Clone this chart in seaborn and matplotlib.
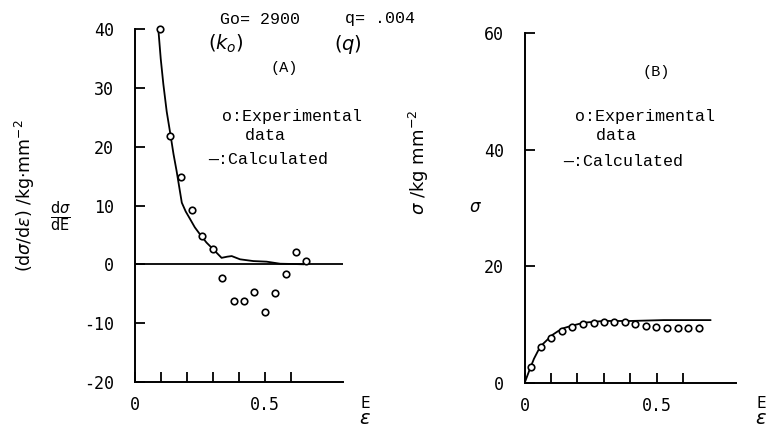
import matplotlib
matplotlib.use("Agg")
import matplotlib.pyplot as plt
import seaborn as sns
import pandas as pd

# ---------------- data ----------------
# Panel A: d(sigma)/d(epsilon) vs epsilon
a_exp_x = [0.096, 0.136, 0.176, 0.219, 0.258, 0.299, 0.336, 0.380, 0.418,
           0.457, 0.500, 0.540, 0.579, 0.618, 0.658]
a_exp_y = [40.0, 21.9, 14.8, 9.25, 4.9, 2.55, -2.4, -6.25, -6.25,
           -4.7, -8.1, -4.9, -1.7, 2.15, 0.56]
a_calc_x = [0.088, 0.099, 0.109, 0.122, 0.136, 0.148, 0.160, 0.180, 0.195,
            0.212, 0.230, 0.250, 0.275, 0.301, 0.333, 0.355, 0.372, 0.404,
            0.455, 0.506, 0.558, 0.609, 0.650]
a_calc_y = [41.0, 35.0, 30.7, 26.0, 22.2, 18.8, 15.9, 10.5, 9.0,
            7.7, 6.3, 5.1, 3.7, 2.55, 1.1, 1.3, 1.4, 0.85,
            0.55, 0.45, 0.1, 0.05, 0.0]

# Panel B: sigma vs epsilon
b_exp_x = [0.023, 0.061, 0.100, 0.141, 0.181, 0.220, 0.261, 0.299, 0.340,
           0.379, 0.419, 0.460, 0.499, 0.540, 0.580, 0.620, 0.660]
b_exp_y = [2.65, 6.1, 7.6, 8.8, 9.6, 10.1, 10.2, 10.4, 10.4,
           10.35, 10.0, 9.8, 9.5, 9.35, 9.35, 9.35, 9.35]
b_calc_x = [0.0, 0.010, 0.020, 0.035, 0.052, 0.068, 0.084, 0.105, 0.128,
            0.150, 0.172, 0.223, 0.299, 0.400, 0.527, 0.705]
b_calc_y = [0.0, 1.2, 2.4, 4.1, 5.6, 6.6, 7.3, 8.2, 8.9,
            9.4, 9.7, 10.3, 10.6, 10.6, 10.75, 10.75]

a_yticks = [-20, -10, 0, 10, 20, 30, 40]
a_yticklabels = ["-20", "-10", "0", "10", "20", "30", "40"]
b_yticks = [0, 20, 40, 60]
b_yticklabels = ["0", "20", "40", "60"]
x_ticks = [0, 0.1, 0.2, 0.3, 0.4, 0.5, 0.6]
x_ticklabels = ["0", "", "", "", "", "0.5", ""]

# ---------------- style ----------------
sns.set_theme(style="white")
plt.rcParams['font.family'] = ['DejaVu Sans']

W, H = 766, 432
fig = plt.figure(figsize=(W / 100, H / 100), dpi=100)


def ax_px(left, top, right, bottom):
    return fig.add_axes([left / W, 1 - bottom / H, (right - left) / W, (bottom - top) / H])


def ftxt(x, y, s, **kw):
    kw.setdefault("ha", "left")
    kw.setdefault("va", "center")
    fig.text(x / W, 1 - y / H, s, **kw)


axA = ax_px(135, 29.5, 343, 381.7)
axB = ax_px(524.7, 33.3, 735.7, 382.7)

dfA_exp = pd.DataFrame({"x": a_exp_x, "y": a_exp_y})
dfA_calc = pd.DataFrame({"x": a_calc_x, "y": a_calc_y})
dfB_exp = pd.DataFrame({"x": b_exp_x, "y": b_exp_y})
dfB_calc = pd.DataFrame({"x": b_calc_x, "y": b_calc_y})

for ax, dexp, dcalc in [(axA, dfA_exp, dfA_calc), (axB, dfB_exp, dfB_calc)]:
    sns.lineplot(data=dcalc, x="x", y="y", ax=ax, color="black", lw=1.3,
                 sort=False, estimator=None)
    sns.scatterplot(data=dexp, x="x", y="y", ax=ax, marker="o", s=22,
                    facecolor="white", edgecolor="black", linewidth=1.2,
                    zorder=3, clip_on=False)

axA.axhline(0, color="black", lw=1.3)

axA.set_ylim(-20, 40)
axB.set_ylim(0, 60)
axA.set_yticks(a_yticks)
axA.set_yticklabels(a_yticklabels)
axB.set_yticks(b_yticks)
axB.set_yticklabels(b_yticklabels)

for ax in (axA, axB):
    ax.set_xlim(0, 0.8)
    ax.set_xticks(x_ticks)
    ax.set_xticklabels(x_ticklabels)
    ax.set_xlabel("")
    ax.set_ylabel("")
    ax.spines["top"].set_visible(False)
    ax.spines["right"].set_visible(False)
    for s in ("left", "bottom"):
        ax.spines[s].set_color("black")
        ax.spines[s].set_linewidth(1.4)
    ax.tick_params(axis="both", direction="in", length=7, width=1.3,
                   colors="black", labelsize=12, bottom=True, left=True)
    ax.tick_params(axis="y", pad=15)
    ax.tick_params(axis="x", pad=10)
    for lab in ax.get_xticklabels() + ax.get_yticklabels():
        lab.set_family("DejaVu Sans Mono")
    ax.set_facecolor("white")

mono = dict(family="Liberation Mono", color="black")

# header
ftxt(220, 19, "Go= 2900", fontsize=12, **mono)
ftxt(345, 19, "q= .004", fontsize=12, **mono)
ftxt(208, 44, r"($k_o$)", fontsize=14, color="black")
ftxt(334, 44, r"($q$)", fontsize=14, color="black")

# panel A annotations
ftxt(284, 68, "(A)", fontsize=11, ha="center", **mono)
ftxt(222, 117, "o:Experimental", fontsize=12, **mono)
ftxt(235, 135, " data", fontsize=12, **mono)
ftxt(208, 160, "—:Calculated", fontsize=12, **mono)

# panel B annotations
ftxt(656, 72, "(B)", fontsize=11, ha="center", **mono)
ftxt(575, 117, "o:Experimental", fontsize=12, **mono)
ftxt(586, 135, " data", fontsize=12, **mono)
ftxt(563, 161, "—:Calculated", fontsize=12, **mono)

# axis labels
ftxt(25, 196, r"(d$\sigma$/d$\epsilon$) /kg$\cdot$mm$^{-2}$", fontsize=12.5,
     rotation=90, ha="center", color="black")
ftxt(60, 217, r"$\frac{\mathrm{d}\sigma}{\mathrm{dE}}$", fontsize=15,
     ha="center", color="black")
ftxt(419, 162, r"$\sigma$ /kg mm$^{-2}$", fontsize=13, rotation=90,
     ha="center", color="black")
ftxt(475, 207, r"$\sigma$", fontsize=12, ha="center", color="black")

for xe in (365, 761):
    ftxt(xe, 403, "E", fontsize=11, ha="center", family="DejaVu Sans", color="black")
    ftxt(xe, 419, r"$\varepsilon$", fontsize=14, ha="center", color="black")

fig.savefig("out.png", dpi=100, facecolor="white")
